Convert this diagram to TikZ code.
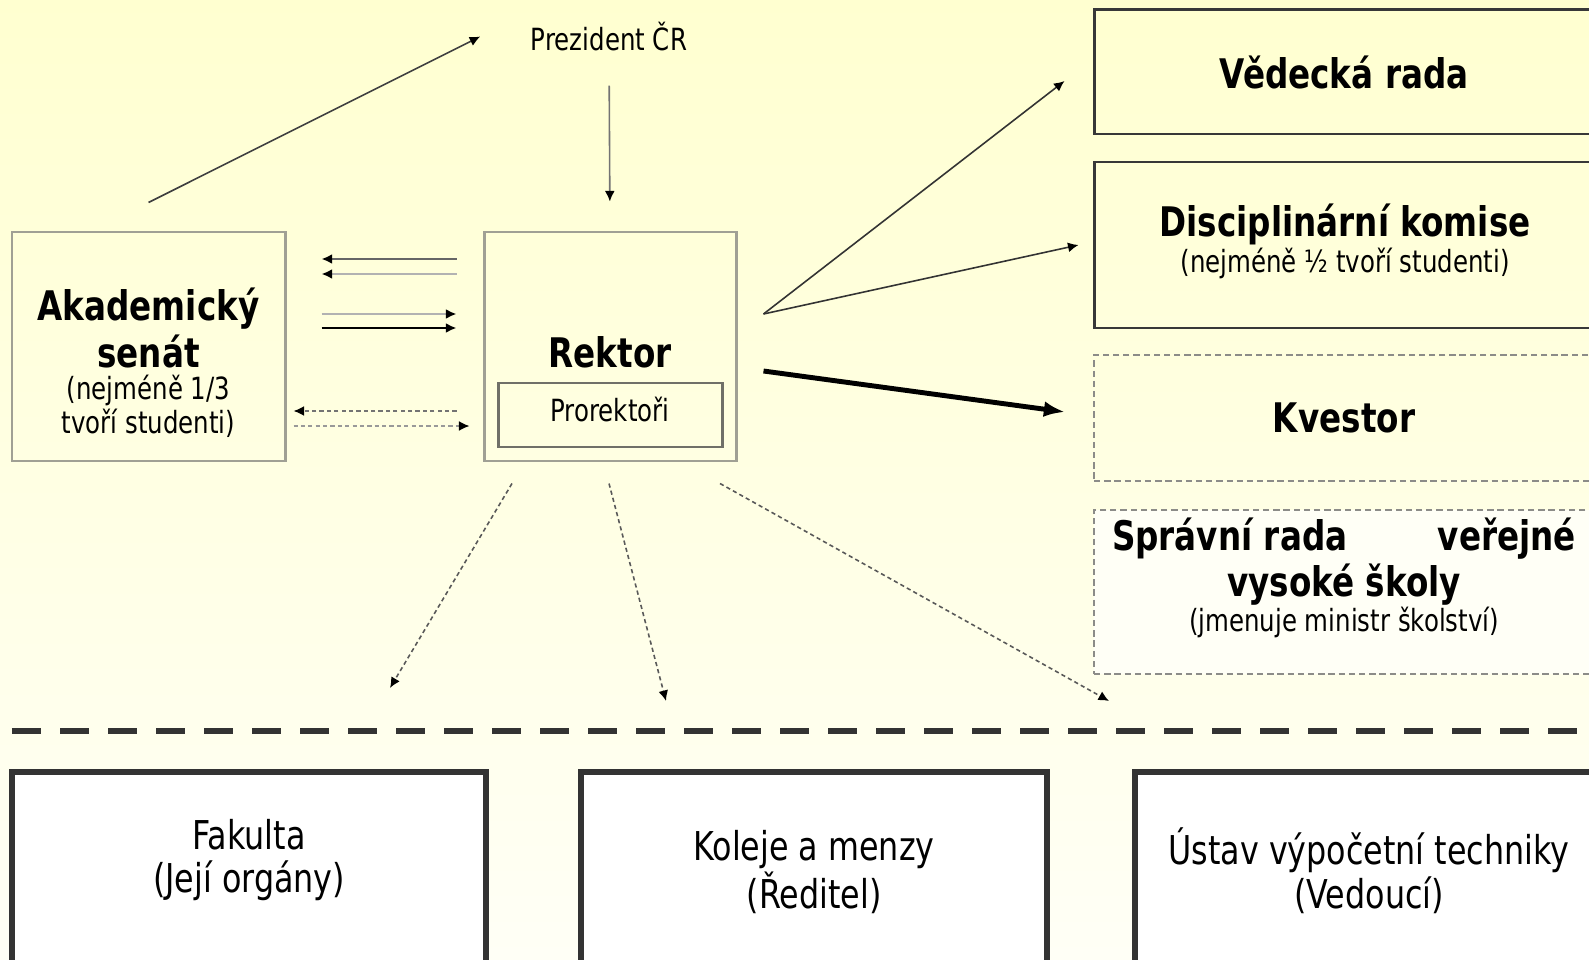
\documentclass[tikz,border=0pt]{standalone}
\usepackage{fontspec}
\setmainfont{DejaVu Sans}[FakeStretch=0.8]
\usepackage{tikz}
\usetikzlibrary{arrows.meta}
\definecolor{bgtop}{RGB}{255,255,208}
\definecolor{bgbottom}{RGB}{255,255,246}
\definecolor{boxgray}{RGB}{160,160,148}
\definecolor{innergray}{RGB}{112,112,104}
\definecolor{dashgray}{RGB}{140,140,136}

\begin{document}
\begin{tikzpicture}[
	titletext/.style={font=\fontsize{11.6}{13.1}\selectfont\bfseries, align=center, inner sep=0pt},
	smalltext/.style={font=\fontsize{8.7}{8.7}\selectfont, align=center, inner sep=0pt},
	bottomtext/.style={font=\fontsize{11.3}{12.5}\selectfont, align=center, inner sep=0pt},
	graybox/.style={draw=boxgray, line width=0.85pt, inner sep=0pt},
	darkbox/.style={draw=black!78, line width=0.85pt, inner sep=0pt},
	dashbox/.style={draw=dashgray, line width=0.6pt, dash pattern=on 1.8pt off 1.1pt, inner sep=0pt},
	unitbox/.style={draw=black!80, line width=1.5pt, fill=white, inner sep=0pt},
	thinarrow/.style={line width=0.45pt, -{Latex[length=3pt, width=2.8pt, color=black]}},
	dotarrow/.style={thinarrow, dash pattern=on 1.2pt off 0.9pt},
	pairarrow/.style={thinarrow, line width=0.75pt},
	]
	\useasboundingbox (0,0) rectangle (15.89,-9.59);
	\shade[top color=bgtop, bottom color=bgbottom] (0,0) rectangle (15.89,-9.59);

	\node[smalltext] (prezident) at (6.09,-0.365) {Prezident ČR};

	\node[graybox, minimum width=2.73cm, minimum height=2.29cm] (senat) at (1.485,-3.465) {};
	\node[titletext] (senattitle) at (1.485,-3.28) {Akademický\\senát};
	\node[smalltext] (senatnote) at (1.485,-4.06) {(nejméně 1/3\\tvoří studenti)};

	\node[graybox, minimum width=2.52cm, minimum height=2.29cm] (rektor) at (6.10,-3.465) {};
	\node[titletext] (rektortitle) at (6.10,-3.52) {Rektor};
	\node[draw=innergray, line width=0.85pt, minimum width=2.24cm, minimum height=0.64cm, smalltext, text depth=0.12cm] (prorektori) at (6.10,-4.15) {Prorektoři};

	\node[darkbox, minimum width=5cm, minimum height=1.24cm, titletext] (vedecka) at (13.44,-0.72) {Vědecká rada};
	\node[darkbox, minimum width=5cm, minimum height=1.66cm] (disciplinarni) at (13.44,-2.45) {};
	\node[titletext] (disctitle) at (13.45,-2.24) {Disciplinární komise};
	\node[smalltext] (discnote) at (13.45,-2.63) {(nejméně ½ tvoří studenti)};
	\node[dashbox, minimum width=5cm, minimum height=1.26cm, titletext] (kvestor) at (13.44,-4.18) {Kvestor};
	\node[dashbox, fill=bgbottom, minimum width=5cm, minimum height=1.64cm] (spravni) at (13.44,-5.92) {};
	\node[titletext] (spravnititle) at (13.44,-5.62) {\makebox[4.64cm][s]{Správní rada\hfill veřejné}\\vysoké školy};
	\node[smalltext] (spravninote) at (13.44,-6.22) {(jmenuje ministr školství)};

	\draw[black!80, line width=1.6pt, dash pattern=on 0.29cm off 0.19cm] (0.12,-7.31) -- (15.89,-7.31);

	\node[unitbox, minimum width=4.74cm, minimum height=2.18cm] (fakulta) at (2.49,-8.81) {};
	\node[bottomtext] (fakultatext) at (2.49,-8.60) {Fakulta\\(Její orgány)};
	\node[unitbox, minimum width=4.66cm, minimum height=2.18cm] (koleje) at (8.14,-8.81) {};
	\node[bottomtext] (kolejetext) at (8.14,-8.72) {Koleje a menzy\\(Ředitel)};
	\node[unitbox, minimum width=4.68cm, minimum height=2.18cm] (ustav) at (13.69,-8.81) {};
	\node[bottomtext] (ustavtext) at (13.69,-8.71) {Ústav výpočetní techniky\\(Vedoucí)};

	\coordinate (tofakulta) at (3.90,-6.88);
	\coordinate (tokoleje) at (6.66,-7.01);
	\coordinate (toustav) at (11.09,-7.01);

	\draw[thinarrow, black!55, shorten <=0.34cm, shorten >=0.29cm] (prezident.south) -- (rektor.north);
	\draw[thinarrow, black!75] ([yshift=0.28cm]senat.north) -- ([xshift=-0.5cm]prezident.west);

	\draw[pairarrow, black!60, shorten <=0.26cm, shorten >=0.35cm] ([yshift=0.875cm]rektor.west) -- ([yshift=0.875cm]senat.east);
	\draw[pairarrow, black!30, shorten <=0.26cm, shorten >=0.35cm] ([yshift=0.725cm]rektor.west) -- ([yshift=0.725cm]senat.east);
	\draw[pairarrow, black!30, shorten <=0.35cm, shorten >=0.26cm] ([yshift=0.325cm]senat.east) -- ([yshift=0.325cm]rektor.west);
	\draw[pairarrow, black, shorten <=0.35cm, shorten >=0.26cm] ([yshift=0.185cm]senat.east) -- ([yshift=0.185cm]rektor.west);
	\draw[dotarrow, black!55, shorten <=0.26cm, shorten >=0.07cm] ([yshift=-0.645cm]rektor.west) -- ([yshift=-0.645cm]senat.east);
	\draw[dotarrow, black!40, shorten <=0.07cm, shorten >=0.13cm] ([yshift=-0.795cm]senat.east) -- ([yshift=-0.795cm]rektor.west);

	\draw[thinarrow, black!80] ([xshift=0.26cm, yshift=0.325cm]rektor.east) -- ([xshift=-0.28cm, yshift=-0.09cm]vedecka.west);
	\draw[thinarrow, black!80] ([xshift=0.26cm, yshift=0.325cm]rektor.east) -- ([xshift=-0.14cm]disciplinarni.west);
	\draw[line width=1.4pt, -{Latex[length=6pt, width=4.5pt]}] ([xshift=0.26cm, yshift=-0.245cm]rektor.east) -- ([xshift=-0.28cm, yshift=0.06cm]kvestor.west);

	\draw[dotarrow, black!65] ([xshift=-0.98cm, yshift=-0.21cm]rektor.south) -- (tofakulta);
	\draw[dotarrow, black!65] ([xshift=-0.01cm, yshift=-0.21cm]rektor.south) -- (tokoleje);
	\draw[dotarrow, black!65] ([xshift=1.10cm, yshift=-0.21cm]rektor.south) -- (toustav);
\end{tikzpicture}
\end{document}
